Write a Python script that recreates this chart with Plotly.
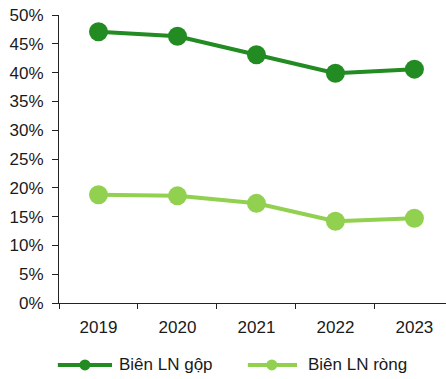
import plotly.graph_objects as go

years = ["2019", "2020", "2021", "2022", "2023"]
gross_margin = [47.1, 46.3, 43.1, 39.9, 40.6]
net_margin = [18.8, 18.6, 17.3, 14.2, 14.7]
y_ticks = [0, 5, 10, 15, 20, 25, 30, 35, 40, 45, 50]
y_tick_text = [f"{v}%" for v in y_ticks]

series = [
    ("Biên LN gộp", gross_margin, "#228B22"),
    ("Biên LN ròng", net_margin, "#92D050"),
]

fig = go.Figure()
for name, values, color in series:
    fig.add_trace(go.Scatter(
        x=years, y=values, name=name, mode="lines+markers",
        line=dict(color=color, width=4),
        marker=dict(color=color, size=19),
        showlegend=False,
    ))

# Legend row drawn below the plot: line sample, dot, label
legend_y = -0.215
legend_items = [
    # (line start, line end, dot centre, label start) in paper x
    (-0.003, 0.137, 0.067, 0.150),
    (0.488, 0.615, 0.550, 0.638),
]
for (name, _, color), (x0, x1, xc, xt) in zip(series, legend_items):
    fig.add_shape(type="line", xref="paper", yref="paper",
                  x0=x0, x1=x1, y0=legend_y, y1=legend_y,
                  line=dict(color=color, width=4))
    fig.add_shape(type="circle", xref="paper", yref="paper",
                  xsizemode="pixel", ysizemode="pixel",
                  xanchor=xc, yanchor=legend_y,
                  x0=-5.5, x1=5.5, y0=-5.5, y1=5.5,
                  fillcolor=color, line=dict(width=0))
    fig.add_annotation(text=name, xref="paper", yref="paper",
                       x=xt, y=legend_y, xanchor="left", yanchor="middle",
                       showarrow=False, font=dict(size=17))

fig.update_layout(
    width=446, height=379,
    margin=dict(l=59, r=0, t=15, b=76),
    plot_bgcolor="white", paper_bgcolor="white",
    font=dict(family="Liberation Sans, Arial, sans-serif", size=17, color="#1a1a1a"),
)
fig.update_xaxes(
    type="category", range=[-0.5, 4.4],
    showline=True, linecolor="#222222", linewidth=1,
    ticks="outside", tickson="boundaries", ticklen=5, tickcolor="#222222",
    showgrid=False, zeroline=False, ticklabelstandoff=9,
)
fig.update_yaxes(
    range=[0, 50], tickvals=y_ticks, ticktext=y_tick_text,
    showline=True, linecolor="#222222", linewidth=1,
    ticks="outside", ticklen=6, tickcolor="#222222",
    showgrid=False, zeroline=False, ticklabelstandoff=5,
)

fig.write_html("out.html")
